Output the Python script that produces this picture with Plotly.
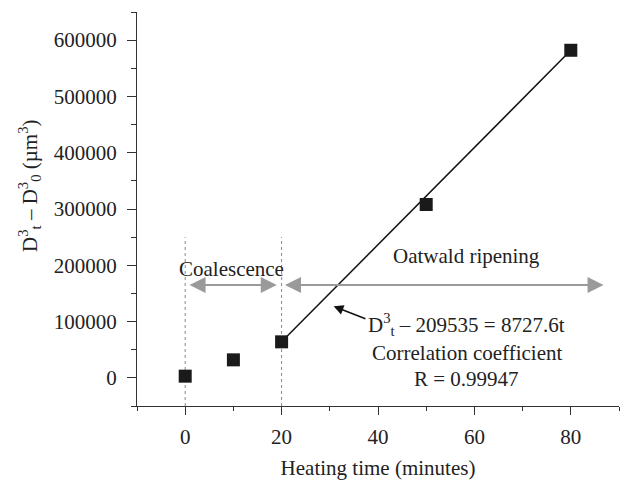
import plotly.graph_objects as go

# data
time_min = [0, 10, 20, 50, 80]
d3_diff = [3000, 32000, 64000, 308000, 582000]
fit_x = [20, 80]
fit_y = [64000, 582000]
phase_bounds = [0, 20]

FONT = "Liberation Serif, Times New Roman, serif"
TXT = "#222222"
GRAY = "#9a9a9a"

fig = go.Figure()

for xb in phase_bounds:
    fig.add_trace(go.Scatter(x=[xb, xb], y=[-50000, 250000], mode="lines",
                             line=dict(color="#888888", width=1, dash="dot"),
                             showlegend=False, hoverinfo="skip"))

fig.add_trace(go.Scatter(x=fit_x, y=fit_y, mode="lines",
                         line=dict(color="#111111", width=1.5), showlegend=False))
fig.add_trace(go.Scatter(x=time_min, y=d3_diff, mode="markers",
                         marker=dict(symbol="square", size=13, color="#1a1a1a"),
                         showlegend=False))

def dbl_arrow(x0, x1, y):
    fig.add_annotation(x=x1, y=y, ax=x0, ay=y, xref="x", yref="y", axref="x", ayref="y",
                       text="", showarrow=True, arrowhead=2, arrowside="end+start",
                       arrowsize=1.6, arrowwidth=2, arrowcolor=GRAY, standoff=0, startstandoff=0)

dbl_arrow(0.6, 19.0, 165000)
dbl_arrow(20.4, 86.8, 165000)

fig.add_annotation(x=9.7, y=193000, xref="x", yref="y", text="Coalescence", showarrow=False,
                   font=dict(family=FONT, size=21, color=TXT))
fig.add_annotation(x=58.4, y=216000, xref="x", yref="y", text="Oatwald ripening", showarrow=False,
                   font=dict(family=FONT, size=21, color=TXT))

fig.add_annotation(x=30.8, y=127000, ax=37.7, ay=104000, xref="x", yref="y", axref="x", ayref="y",
                   text="", showarrow=True, arrowhead=2, arrowsize=1.3, arrowwidth=1.5,
                   arrowcolor="#111111", standoff=0)

fig.add_annotation(x=58.4, y=66000, xref="x", yref="y", yanchor="bottom",
                   text="D<sup>3</sup><sub>t</sub> – 209535 = 8727.6t", showarrow=False,
                   font=dict(family=FONT, size=21, color=TXT))
fig.add_annotation(x=58.5, y=44000, xref="x", yref="y", yanchor="middle", text="Correlation coefficient",
                   showarrow=False, font=dict(family=FONT, size=21, color=TXT))
fig.add_annotation(x=58.3, y=22000, xref="x", yref="y", yanchor="top", text="R = 0.99947",
                   showarrow=False, font=dict(family=FONT, size=21, color=TXT))

fig.add_annotation(x=-0.222, y=0.561, xref="paper", yref="paper", textangle=-90,
                   xanchor="center", yanchor="middle",
                   text="D<sup>3</sup><sub>t</sub> – D<sup>3</sup><sub>0</sub> (µm<sup>3</sup>)",
                   showarrow=False, font=dict(family=FONT, size=21, color=TXT))

axis_common = dict(showgrid=False, zeroline=False, showline=True, linecolor="#333333",
                   linewidth=1.2, ticks="outside", tickcolor="#333333", tickwidth=1.2,
                   tickfont=dict(family=FONT, size=21, color=TXT))

fig.update_xaxes(range=[-10, 90], tickvals=[0, 20, 40, 60, 80], ticklen=8, ticklabelstandoff=4,
                 minor=dict(tickvals=[-10, 10, 30, 50, 70, 90], ticklen=4, ticks="outside",
                            tickcolor="#333333", tickwidth=1.2),
                 title=dict(text="Heating time (minutes)", font=dict(family=FONT, size=21, color=TXT),
                            standoff=12),
                 **axis_common)
fig.update_yaxes(range=[-50000, 650000], tickvals=[0, 100000, 200000, 300000, 400000, 500000, 600000],
                 ticktext=["0", "100000", "200000", "300000", "400000", "500000", "600000"], ticklen=9,
                 ticklabelstandoff=6,
                 minor=dict(tickvals=[-50000, 50000, 150000, 250000, 350000, 450000, 550000, 650000],
                            ticklen=5, ticks="outside", tickcolor="#333333", tickwidth=1.2),
                 **axis_common)

fig.update_layout(width=621, height=482, margin=dict(l=137, r=2, t=12, b=76),
                  plot_bgcolor="white", paper_bgcolor="white", showlegend=False)

fig.write_html("out.html")
